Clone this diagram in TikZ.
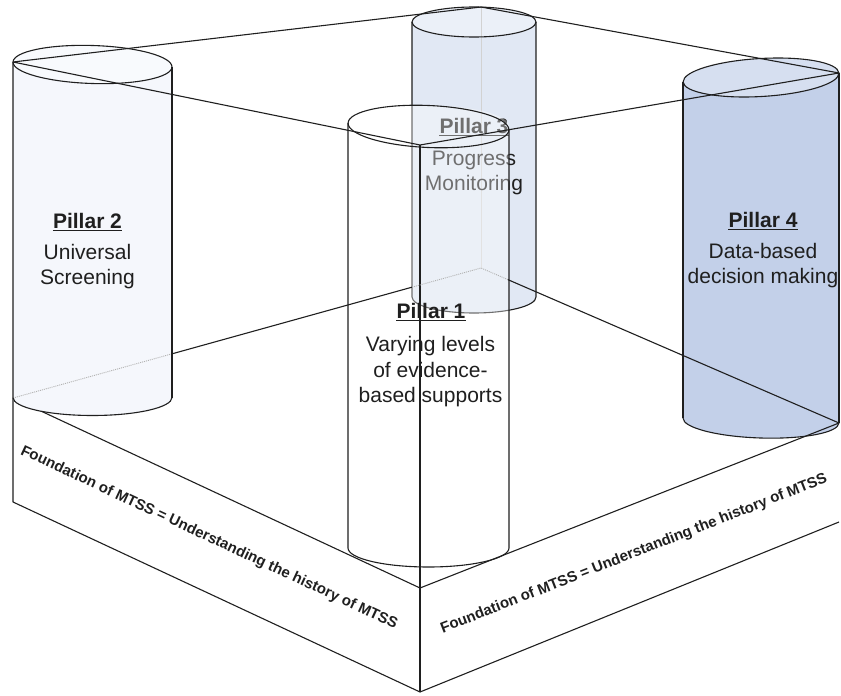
\documentclass[tikz,border=0pt]{standalone}
\usepackage{fontspec}
\setmainfont{Liberation Sans}
\usetikzlibrary{calc}
\definecolor{ink}{HTML}{1F1F1F}
\definecolor{ptwo}{HTML}{F5F7FC}
\definecolor{ptwotop}{HTML}{F8FAFD}
\definecolor{pthree}{HTML}{E1E8F4}
\definecolor{pthreetop}{HTML}{EBF0F8}
\definecolor{pfour}{HTML}{C3D0E9}
\definecolor{pfourtop}{HTML}{D6DFF0}
\begin{document}
\begin{tikzpicture}[x=1pt,y=1pt,
  edge/.style={draw=ink, line width=1.1pt, line join=round},
  hid/.style={draw=gray!60, line width=0.9pt, dash pattern=on 1pt off 1pt},
  backline/.style={draw=gray!35, line width=0.8pt},
  lbl/.style={font=\fontsize{21}{25}\selectfont, text=ink, inner sep=0pt, anchor=base},
  ttl/.style={lbl, font=\fontsize{21}{25}\selectfont\bfseries},
  uline/.style={draw=ink, line width=1.3pt},
  fnd/.style={font=\fontsize{15}{18}\selectfont\bfseries, text=ink, inner sep=0pt}]
\useasboundingbox (0,0) rectangle (841,-696);

% frame corners
\coordinate (L) at (13,-62);
\coordinate (B) at (481,-7);
\coordinate (R) at (839,-73);
\coordinate (F) at (420,-145);
\coordinate (L2) at (13,-398);
\coordinate (B2) at (481,-268);
\coordinate (R2) at (839,-423);
\coordinate (F2) at (420,-588);
\coordinate (L3) at (13,-502);
\coordinate (F3) at (420,-692);

% edge partly hidden by pillar 2
\draw[edge] (L2) -- (F2);

% ---------- pillar fills ----------
% pillar 2
\fill[ptwo] (13,-62) -- (13,-397.5) -- (172,-397.5) -- (172,-67) -- cycle;
\fill[ptwo] (92.5,-397.5) ellipse[x radius=79.5, y radius=18];
\begin{scope}[shift={(92.5,-64.5)}, rotate=-1.8]
  \fill[ptwotop] (0,0) ellipse[x radius=79.5, y radius=19];
\end{scope}
% pillar 4
\fill[pfour] (683,-82) -- (683,-418) -- (839,-423) -- (839,-73) -- cycle;
\begin{scope}[shift={(761,-420.5)}, rotate=-1.8]
  \fill[pfour] (0,0) ellipse[x radius=78, y radius=17.5];
\end{scope}
\begin{scope}[shift={(761,-77.5)}, rotate=3.3]
  \fill[pfourtop] (0,0) ellipse[x radius=78, y radius=19];
\end{scope}
% pillar 3
\fill[pthree] (412,-22) -- (412,-297) -- (536,-297) -- (536,-22) -- cycle;
\fill[pthree] (474,-297) ellipse[x radius=62, y radius=16];
\fill[pthreetop] (474,-22) ellipse[x radius=62, y radius=15];

% back vertical edge
\draw[backline] (B) -- (B2);

% pillar 3 text
\node[ttl] (p3t) at (474,-133) {Pillar 3};
\draw[uline] ([yshift=-2.5pt]p3t.base west) -- ([yshift=-2.5pt]p3t.base east);
\node[lbl] (p3a) at (474,-165) {Progress};
\node[lbl] (p3b) at (474,-190) {Monitoring};

% pillar 3 outline
\draw[edge] (412,-22) -- (412,-297) arc[start angle=180, end angle=360, x radius=62, y radius=16] -- (536,-22);
\draw[edge] (474,-22) ellipse[x radius=62, y radius=15];

% pillar 1 see-through overlay
\fill[white, fill opacity=0.36] (348,-126.5) -- (348,-548)
  arc[start angle=180, end angle=360, x radius=80.5, y radius=19] -- (509,-126.5)
  arc[start angle=0, end angle=180, x radius=80.5, y radius=21] -- cycle;

% ---------- box edges ----------
\draw[edge] (L) -- (L3) -- (F3);
\draw[edge] (F) -- (F3);
\draw[edge] (F2) -- (R2);
\draw[edge] (F3) -- (839,-522);
% back bottom edges, with hidden parts
\draw[hid] (L2) -- ($(L2)!0.3397!(B2)$);
\draw[edge] ($(L2)!0.3397!(B2)$) -- ($(L2)!0.8526!(B2)$);
\draw[hid] ($(L2)!0.8526!(B2)$) -- (B2) -- ($(B2)!0.0754!(R2)$);
\draw[edge] ($(B2)!0.0754!(R2)$) -- (R2);

% ---------- pillar outlines ----------
% pillar 2
\draw[edge] (172,-67) -- (172,-397.5);
\draw[edge] (13,-397.5) arc[start angle=180, end angle=360, x radius=79.5, y radius=18];
\begin{scope}[shift={(92.5,-64.5)}, rotate=-1.8]
  \draw[edge] (0,0) ellipse[x radius=79.5, y radius=19];
\end{scope}
% pillar 4
\draw[edge] (683,-82) -- (683,-418);
\draw[edge] (839,-73) -- (839,-423);
\begin{scope}[shift={(761,-420.5)}, rotate=-1.8]
  \draw[edge] (-78,0) arc[start angle=180, end angle=360, x radius=78, y radius=17.5];
\end{scope}
\begin{scope}[shift={(761,-77.5)}, rotate=3.3]
  \draw[edge] (0,0) ellipse[x radius=78, y radius=19];
\end{scope}
% pillar 1
\draw[edge] (348,-123) -- (348,-548) arc[start angle=180, end angle=360, x radius=80.5, y radius=19] -- (509,-130);
\begin{scope}[shift={(428.5,-126.5)}, rotate=-2.5]
  \draw[edge] (0,0) ellipse[x radius=80.5, y radius=21];
\end{scope}

% top plane
\draw[edge] (L) -- (B) -- (R) -- (F) -- cycle;

% ---------- labels ----------
\node[ttl] (p2t) at (87.5,-228) {Pillar 2};
\draw[uline] ([yshift=-2.5pt]p2t.base west) -- ([yshift=-2.5pt]p2t.base east);
\node[lbl] (p2a) at (87.5,-259) {Universal};
\node[lbl] (p2b) at (87.5,-284) {Screening};

\node[ttl] (p1t) at (431,-318) {Pillar 1};
\draw[uline] ([yshift=-2.5pt]p1t.base west) -- ([yshift=-2.5pt]p1t.base east);
\node[lbl] (p1a) at (430.5,-351) {Varying levels};
\node[lbl] (p1b) at (430.5,-377) {of evidence-};
\node[lbl] (p1c) at (430.5,-402) {based supports};

\node[ttl] (p4t) at (763,-227) {Pillar 4};
\draw[uline] ([yshift=-2.5pt]p4t.base west) -- ([yshift=-2.5pt]p4t.base east);
\node[lbl] (p4a) at (763,-258) {Data-based};
\node[lbl] (p4b) at (763,-283) {decision making};

\node[fnd, rotate=-25] (fl) at (209,-538) {Foundation of MTSS = Understanding the history of MTSS};
\node[fnd, rotate=21.4] (fr) at (634,-554) {Foundation of MTSS = Understanding the history of MTSS};
\end{tikzpicture}
\end{document}
